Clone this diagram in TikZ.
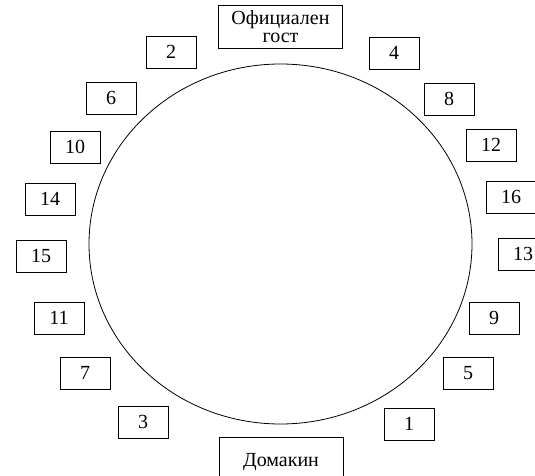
\documentclass[tikz,border=0pt]{standalone}
\usepackage{fontspec}
\setmainfont{Liberation Serif}
\usetikzlibrary{positioning,shapes.geometric}

\begin{document}
\begin{tikzpicture}[
  x=1pt,y=-1pt,
  seat/.style={rectangle,draw,line width=0.8pt,minimum width=50pt,minimum height=32pt,inner sep=0pt,font=\fontsize{20}{18}\selectfont},
  head/.style={rectangle,draw,line width=0.8pt,align=center,minimum width=124pt,inner sep=0pt,font=\fontsize{20}{17.5}\selectfont},
  tablee/.style={ellipse,draw,line width=0.8pt,inner sep=0pt}
]
\useasboundingbox (0,0) rectangle (535,476);
\clip (0,0) rectangle (535,476);
\node[tablee,minimum width=383pt,minimum height=360pt] (table) at (280.5,244) {};
\node[head,minimum height=43pt] (guest) at (280.5,26.5) {Официален\\гост};
\node[head,minimum height=50pt] (host) at (281,462) {Домакин};
\node[seat] (s2) at (171,52) {2};
\node[seat] (s4) at (394,53) {4};
\node[seat] (s6) at (111,98) {6};
\node[seat] (s8) at (449,99) {8};
\node[seat] (s10) at (75,147) {10};
\node[seat] (s12) at (491,145) {12};
\node[seat] (s14) at (50,199) {14};
\node[seat] (s16) at (511,197) {16};
\node[seat] (s15) at (41,256) {15};
\node[seat] (s13) at (523,254) {13};
\node[seat] (s11) at (59,318) {11};
\node[seat] (s9) at (494,318) {9};
\node[seat] (s7) at (85,373) {7};
\node[seat] (s5) at (468,373) {5};
\node[seat] (s3) at (143,422) {3};
\node[seat] (s1) at (409,424) {1};
\end{tikzpicture}
\end{document}
